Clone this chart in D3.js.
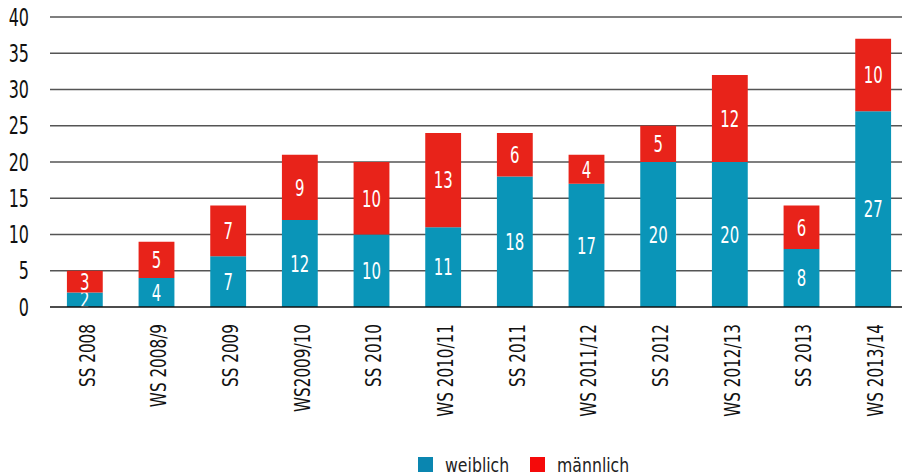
<!DOCTYPE html>
<html>
<head>
<meta charset="utf-8">
<script src="https://cdn.jsdelivr.net/npm/d3@7"></script>
<style>
  html, body { margin: 0; padding: 0; background: #fff; }
  svg { display: block; }
  text { font-family: "DejaVu Sans Condensed", "Liberation Sans Narrow", "Roboto", sans-serif; }
</style>
</head>
<body>
<svg id="chart" width="902" height="475"></svg>
<script>
// Semester labels and head counts per group
const semesters = ["SS 2008", "WS 2008/9", "SS 2009", "WS2009/10", "SS 2010", "WS 2010/11",
                   "SS 2011", "WS 2011/12", "SS 2012", "WS 2012/13", "SS 2013", "WS 2013/14"];
const weiblich = [2, 4, 7, 12, 10, 11, 18, 17, 20, 20, 8, 27];
const maennlich = [3, 5, 7, 9, 10, 13, 6, 4, 5, 12, 6, 10];
const yTicks = [0, 5, 10, 15, 20, 25, 30, 35, 40];
const seriesNames = ["weiblich", "männlich"];
const seriesColors = ["#0a95b8", "#e8231a"];
const legendColors = ["#0a86b0", "#f50a0a"];

const svg = d3.select("#chart");
const margin = { left: 49, right: -7, top: 17, bottom: 168 };
const W = 902, H = 475;

const x = d3.scaleBand().domain(semesters)
  .range([margin.left, W - margin.right]).paddingInner(0.5).paddingOuter(0.25);
const y = d3.scaleLinear().domain([0, 40]).range([H - margin.bottom, margin.top]);

// narrow glyphs: horizontal squeeze of a condensed face
function place(sel, px, py, rot, sx) {
  return sel.attr("transform", (d, i) =>
    `translate(${px(d, i)},${py(d, i)}) rotate(${rot}) scale(${sx},1)`);
}

// gridlines
svg.append("g").selectAll("line").data(yTicks.filter(d => d > 0)).join("line")
  .attr("x1", 50).attr("x2", W)
  .attr("y1", d => y(d)).attr("y2", d => y(d))
  .attr("stroke", "#555").attr("stroke-width", 1.3);

// y tick labels
place(svg.append("g").selectAll("text").data(yTicks).join("text"),
      () => 29, d => y(d), 0, 0.74)
  .attr("dy", "0.36em")
  .attr("text-anchor", "end").attr("font-size", 24).attr("fill", "#111")
  .text(d => d);

// stacked data
const rows = semesters.map((s, i) => ({ s, weiblich: weiblich[i], "männlich": maennlich[i] }));
const stack = d3.stack().keys(seriesNames)(rows);

const layers = svg.append("g").selectAll("g").data(stack).join("g")
  .attr("fill", (d, i) => seriesColors[i]);

layers.selectAll("rect").data(d => d).join("rect")
  .attr("x", d => x(d.data.s))
  .attr("width", x.bandwidth())
  .attr("y", d => y(d[1]))
  .attr("height", d => y(d[0]) - y(d[1]));

place(layers.selectAll("text").data(d => d).join("text"),
      d => x(d.data.s) + x.bandwidth() / 2,
      d => (y(d[0]) + y(d[1])) / 2, 0, 0.72)
  .attr("dy", "0.36em")
  .attr("text-anchor", "middle").attr("font-size", 23).attr("fill", "#fff")
  .text(d => d[1] - d[0]);

// baseline
svg.append("line").attr("x1", 50).attr("x2", W)
  .attr("y1", y(0)).attr("y2", y(0)).attr("stroke", "#111").attr("stroke-width", 1.5);

// category labels, rotated
place(svg.append("g").selectAll("text").data(semesters).join("text"),
      d => x(d) + x.bandwidth() / 2 + 2, () => y(0) + 17, -90, 0.77)
  .attr("dy", "0.36em")
  .attr("text-anchor", "end").attr("font-size", 22).attr("fill", "#111")
  .text(d => d);

// legend
const legend = svg.append("g");
const legendX = [418, 530];
seriesNames.forEach((n, i) => {
  legend.append("rect").attr("x", legendX[i]).attr("y", 457).attr("width", 15).attr("height", 15)
    .attr("fill", legendColors[i]);
  legend.append("text")
    .attr("transform", `translate(${legendX[i] + 27},465) scale(0.92,1)`)
    .attr("dy", "0.36em")
    .attr("font-size", 19).attr("fill", "#222").text(n);
});
</script>
</body>
</html>
